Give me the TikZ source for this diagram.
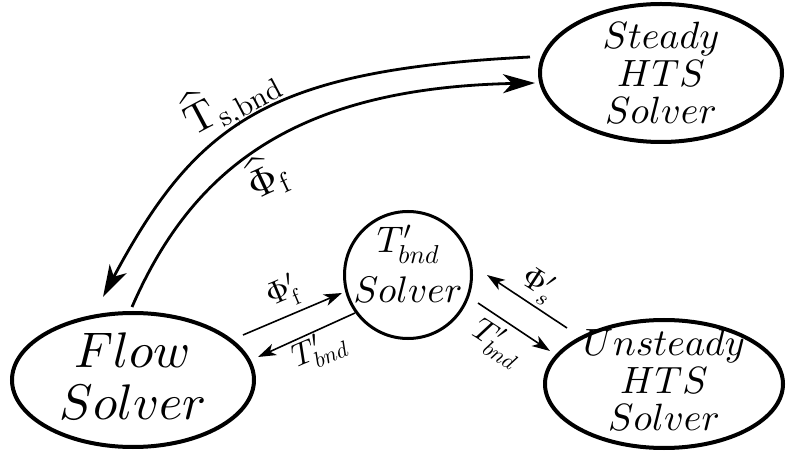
\documentclass[tikz,border=0pt]{standalone}
\DeclareFontShape{OML}{cmm}{m}{it}{<->cmmi10}{}
\DeclareFontShape{OT1}{cmr}{m}{n}{<->cmr10}{}
\DeclareFontShape{OMS}{cmsy}{m}{n}{<->cmsy10}{}
\DeclareFontShape{OMX}{cmex}{m}{n}{<->cmex10}{}
\usetikzlibrary{shapes.geometric,arrows.meta}
\tikzset{
  solver/.style={ellipse, draw, line width=4pt, inner sep=0pt},
  txt/.style={align=center, inner sep=0pt},
  bigarc/.style={line width=2.8pt, -{Stealth[length=32pt,width=19pt,inset=9pt]}},
  smallarr/.style={line width=1.6pt, -{Stealth[length=18pt,width=12pt,inset=5pt]}},
  lbl/.style={inner sep=0pt, font=\fontsize{32}{34}\selectfont},
}
\begin{document}
\begin{tikzpicture}[x=1pt,y=1pt]
\useasboundingbox (0,0) rectangle (787,450);
% nodes
\node[solver, minimum width=242pt, minimum height=138pt] (steady) at (661,377) {};
\node[txt, font=\fontsize{38}{37.5}\selectfont] (steadytxt) at (steady.center) {$Steady$\\$HTS$\\$Solver$};
\node[solver, minimum width=242pt, minimum height=134pt] (flow) at (133,70) {};
\node[txt, font=\fontsize{50}{52}\selectfont] (flowtxt) at ([yshift=4pt]flow.center) {$Flow$\\$Solver$};
\node[solver, minimum width=238pt, minimum height=128pt] (unsteady) at (664,66) {};
\node[txt, font=\fontsize{38}{37.5}\selectfont] (unsteadytxt) at ([yshift=4pt]unsteady.center) {$Unsteady$\\$HTS$\\$Solver$};
\node[circle, draw, line width=3pt, minimum size=127pt, inner sep=0pt] (tb) at (408,175) {};
\node[txt, font=\fontsize{37}{50}\selectfont] (tbtxt) at ([yshift=11pt]tb.center) {$T'_{bnd}$\\$Solver$};
% arc end points
\coordinate (a1s) at (530,393);
\coordinate (a1e) at (103,153);
\coordinate (a2s) at (132,143);
\coordinate (a2e) at (535,367);
\draw[bigarc] (a1s) .. controls (270,380) and (197,329) .. (a1e);
\draw[bigarc] (a2s) .. controls (192,281) and (295,362) .. (a2e);
% small arrows
\coordinate (f1) at (243,115); \coordinate (f2) at (342,157);
\coordinate (f3) at (355,137); \coordinate (f4) at (258,93);
\coordinate (u1) at (567,122); \coordinate (u2) at (487,175);
\coordinate (u3) at (478,147); \coordinate (u4) at (550,99);
\draw[smallarr] (f1) -- (f2);
\draw[smallarr] (f3) -- (f4);
\draw[smallarr] (u1) -- (u2);
\draw[smallarr] (u3) -- (u4);
% labels
\node[lbl, rotate=23] (l1) at (283,157) {$\Phi'_{\mathrm{f}}$};
\node[lbl, rotate=23] (l2) at (319,100) {$T'_{bnd}$};
\node[lbl, rotate=-33] (l3) at (538,165) {$\Phi'_{s}$};
\node[lbl, rotate=-33] (l4) at (497,107) {$T'_{bnd}$};
\node[inner sep=0pt, font=\fontsize{42}{44}\selectfont, rotate=28] (l5) at (231,350) {$\widehat{\mathrm{T}}_{\mathrm{s,bnd}}$};
\node[inner sep=0pt, font=\fontsize{40}{44}\selectfont, rotate=25] (l6) at (267,273) {$\widehat{\Phi}_{\mathrm{f}}$};
\end{tikzpicture}
\end{document}
